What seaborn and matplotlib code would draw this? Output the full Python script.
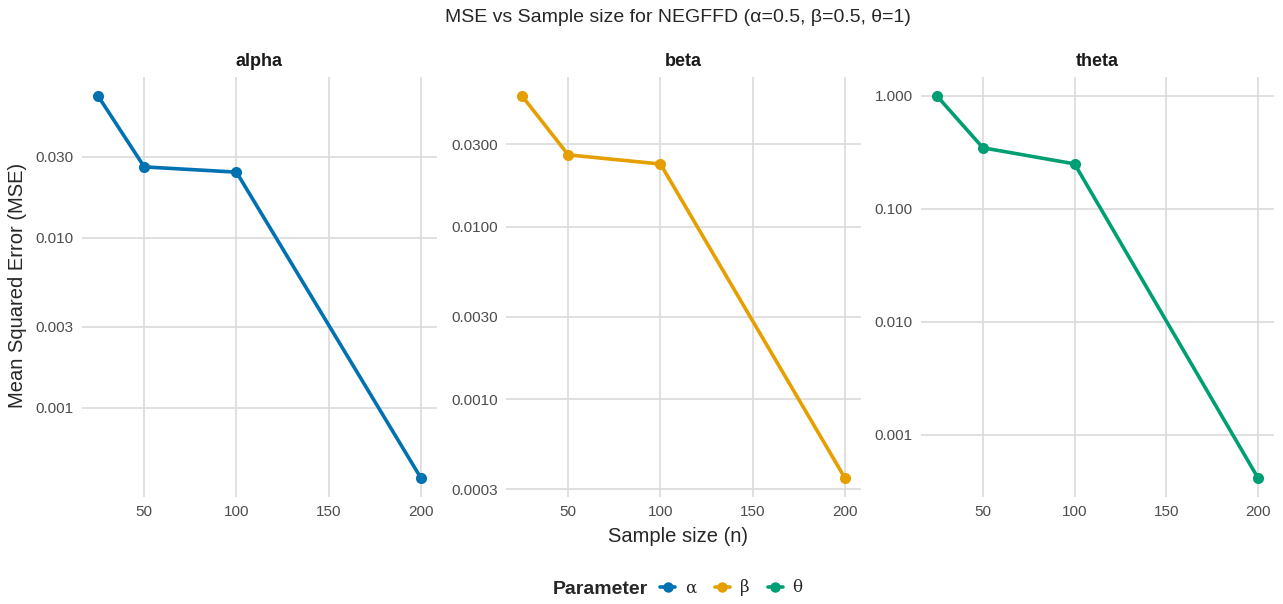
import numpy as np
import pandas as pd
import matplotlib
matplotlib.use("Agg")
import matplotlib.pyplot as plt
from matplotlib.lines import Line2D
from matplotlib.ticker import FixedLocator, FixedFormatter, NullLocator
import seaborn as sns

# Data
sample_sizes = [25, 50, 100, 200]
mse_alpha = [0.0684, 0.0262, 0.0244, 0.000387]
mse_beta = [0.0572, 0.0261, 0.0231, 0.000350]
mse_theta = [0.995, 0.347, 0.250, 0.000416]

params = ["alpha", "beta", "theta"]
greek = ["α", "β", "θ"]
colors = ["#0072B2", "#E69F00", "#009E73"]

y_ticks = {
    "alpha": [0.001, 0.003, 0.010, 0.030],
    "beta": [0.0003, 0.0010, 0.0030, 0.0100, 0.0300],
    "theta": [0.001, 0.010, 0.100, 1.000],
}
y_fmt = {"alpha": "{:.3f}", "beta": "{:.4f}", "theta": "{:.3f}"}
x_ticks = [50, 100, 150, 200]

df = pd.DataFrame({
    "n": sample_sizes * 3,
    "mse": mse_alpha + mse_beta + mse_theta,
    "param": np.repeat(params, len(sample_sizes)),
})

sns.set_theme(style="whitegrid")
plt.rcParams["font.family"] = ["Liberation Sans", "DejaVu Sans"]

W, H = 1283, 604
fig = plt.figure(figsize=(W / 100, H / 100), dpi=100)

# panel boxes in pixels: left, top, right, bottom
boxes = [(82, 77, 437, 497), (506, 77, 861, 497), (921, 77, 1274, 497)]

for p, c, (l, t, r, b) in zip(params, colors, boxes):
    ax = fig.add_axes([l / W, 1 - b / H, (r - l) / W, (b - t) / H])
    sub = df[df["param"] == p]
    sns.lineplot(data=sub, x="n", y="mse", color=c, marker="o", markersize=8,
                 markeredgewidth=0, linewidth=2.6, ax=ax)
    ax.set_yscale("log")
    ax.margins(x=0.05, y=0.05)
    ax.yaxis.set_major_locator(FixedLocator(y_ticks[p]))
    ax.yaxis.set_major_formatter(FixedFormatter([y_fmt[p].format(v) for v in y_ticks[p]]))
    ax.yaxis.set_minor_locator(NullLocator())
    ax.set_xticks(x_ticks)
    ax.set_xticklabels([str(v) for v in x_ticks])
    ax.set_facecolor("white")
    for s in ax.spines.values():
        s.set_visible(False)
    ax.grid(True, color="#DADADA", linewidth=1.2)
    ax.tick_params(length=0, pad=6, labelsize=11, labelcolor="#4D4D4D")
    ax.set_xlabel("")
    ax.set_ylabel("")
    ax.set_title(p, fontsize=13, fontweight="bold", color="#1A1A1A", pad=8)

mid_x = (boxes[0][0] + boxes[2][2]) / 2 / W
fig.text(mid_x, 1 - 18 / H, "MSE vs Sample size for NEGFFD (α=0.5, β=0.5, θ=1)",
         fontsize=14, ha="center", va="center")
fig.text(mid_x, 1 - 536 / H, "Sample size (n)", fontsize=14.5, ha="center", va="center")
fig.text(18 / W, 1 - 285 / H, "Mean Squared Error (MSE)", fontsize=14.5,
         rotation=90, ha="center", va="center")

# legend at bottom
handles = [Line2D([], [], color=c, marker="o", markersize=7.5, linewidth=2.6,
                  markeredgewidth=0) for c in colors]
fig.text(648 / W, 1 - 589 / H, "Parameter", fontsize=14, fontweight="bold",
         ha="right", va="center")
fig.legend(handles, greek, loc="center left", bbox_to_anchor=(645 / W, 1 - 588 / H),
           ncol=3, frameon=False, handlelength=0.9, handletextpad=0.6,
           columnspacing=1.1, prop={"family": "DejaVu Serif", "size": 12})

fig.savefig("out.png", dpi=100)
